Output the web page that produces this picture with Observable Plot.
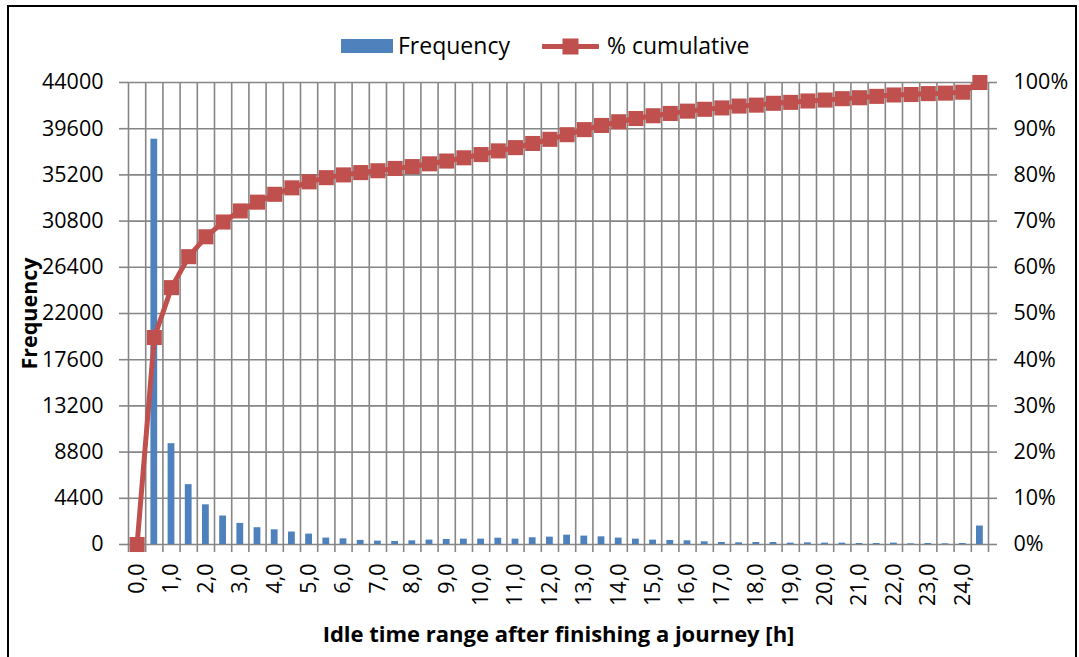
<!DOCTYPE html>
<html><head><meta charset="utf-8">
<script src="https://cdn.jsdelivr.net/npm/d3@7"></script>
<script src="https://cdn.jsdelivr.net/npm/@observablehq/plot@0.6"></script>
<style>
html,body{margin:0;padding:0;background:#fff;overflow:hidden;}
#wrap{position:relative;width:1079px;height:657px;font-family:"Open Sans",sans-serif;color:#000;}
#frame{position:absolute;left:7px;top:5px;width:1066px;height:700px;border:2px solid #000;pointer-events:none;box-sizing:content-box;}
#legend{position:relative;height:70px;font-size:23px;}
#legend .sw{position:absolute;left:341px;top:39px;width:52px;height:14px;background:#4F81BD;}
#legend .t1{position:absolute;left:398px;top:30px;line-height:30px;}
#legend svg{position:absolute;left:542px;top:38px;}
#legend .t2{position:absolute;left:607px;top:30px;line-height:30px;}
</style></head>
<body>
<div id="wrap">
  <div id="legend">
    <div class="sw"></div><div class="t1">Frequency</div>
    <svg width="57" height="17"><line x1="1" y1="8.5" x2="56" y2="8.5" stroke="#C0504D" stroke-width="5" stroke-linecap="round"/><rect x="20.5" y="0.5" width="16" height="16" fill="#C0504D"/></svg>
    <div class="t2">% cumulative</div>
  </div>
  <div id="chart"></div>
  <div id="frame"></div>
</div>
<script>
const categories = ["0,0","0,5","1,0","1,5","2,0","2,5","3,0","3,5","4,0","4,5","5,0","5,5","6,0","6,5","7,0","7,5","8,0","8,5","9,0","9,5","10,0","10,5","11,0","11,5","12,0","12,5","13,0","13,5","14,0","14,5","15,0","15,5","16,0","16,5","17,0","17,5","18,0","18,5","19,0","19,5","20,0","20,5","21,0","21,5","22,0","22,5","23,0","23,5","24,0","24,5"];
const frequency = [0,38600,9600,5700,3780,2710,2010,1600,1400,1190,990,610,540,390,320,290,350,420,480,510,510,600,510,640,700,890,800,730,610,510,415,385,350,255,190,160,190,190,130,160,130,130,95,95,130,65,95,65,95,1760];
const cumulativePct = [0,44.8,55.6,62.3,66.6,69.8,72.2,74.1,75.8,77.2,78.5,79.4,80.0,80.5,80.9,81.4,81.8,82.4,83.0,83.7,84.4,85.2,85.9,86.8,87.7,88.7,89.8,90.7,91.5,92.2,92.8,93.3,93.8,94.2,94.5,94.9,95.1,95.5,95.7,96.0,96.2,96.5,96.7,97.0,97.3,97.4,97.6,97.7,97.9,100];
const freqTicks = [0,4400,8800,13200,17600,22000,26400,30800,35200,39600,44000];
const pctTickLabels = ["0%","10%","20%","30%","40%","50%","60%","70%","80%","90%","100%"];
const xTitle = "Idle time range after finishing a journey [h]";
const yTitle = "Frequency";

const data = categories.map((c, i) => ({i, cat: c, freq: frequency[i], pct: cumulativePct[i]}));
const pctToFreq = 44000 / 100;
const boundaries = d3.range(categories.length + 1).map(i => i - 0.5);
const labelIdx = categories.map((c, i) => i).filter(i => categories[i].endsWith(",0"));
const gridColor = "#868686";

const chart = Plot.plot({
  width: 1079,
  height: 587,
  marginTop: 12,
  marginBottom: 113,
  marginLeft: 128,
  marginRight: 91,
  style: {fontFamily: "'Open Sans', sans-serif", fontSize: "21px", color: "#000", background: "transparent", overflow: "visible"},
  x: {type: "linear", domain: [-0.5, categories.length - 0.5]},
  y: {domain: [0, 44000], nice: false},
  marks: [
    Plot.gridY(freqTicks, {stroke: gridColor, strokeOpacity: 1, strokeWidth: 1.6}),
    Plot.gridX(boundaries, {stroke: gridColor, strokeOpacity: 1, strokeWidth: 1.6}),
    Plot.axisX(boundaries, {tickSize: 8, stroke: gridColor, strokeWidth: 1.6, tickFormat: () => "", label: null}),
    Plot.axisX(labelIdx, {tickSize: 0, tickPadding: 19, tickRotate: -90, tickFormat: i => categories[i], label: null, fontSize: 21.5, fill: "#000"}),
    Plot.axisY(freqTicks, {anchor: "left", tickSize: 9, tickPadding: 16, stroke: gridColor, strokeWidth: 1.6, tickFormat: d => String(d), label: null, fontSize: 21.5, fill: "#000"}),
    Plot.axisY(freqTicks, {anchor: "right", tickSize: 8, tickPadding: 17, stroke: gridColor, strokeWidth: 1.6, tickFormat: d => pctTickLabels[freqTicks.indexOf(d)], label: null, fontSize: 21.5, fill: "#000"}),
    Plot.rectY(data, {x1: d => d.i - 0.5, x2: d => d.i + 0.5, y: "freq", insetLeft: 5.2, insetRight: 5.2, fill: "#4F81BD"}),
    Plot.line(data, {x: "i", y: d => d.pct * pctToFreq, stroke: "#C0504D", strokeWidth: 5, strokeLinejoin: "round"}),
    Plot.dot(data, {x: "i", y: d => d.pct * pctToFreq, symbol: "square", r: 8.5, fill: "#C0504D", stroke: "none"}),
    Plot.text([yTitle], {frameAnchor: "left", dx: -98, rotate: -90, textAnchor: "middle", lineAnchor: "middle", fontWeight: "bold", fontSize: 21.5, fill: "#000"}),
    Plot.text([xTitle], {frameAnchor: "bottom", dy: 90, textAnchor: "middle", lineAnchor: "middle", fontWeight: "bold", fontSize: 22, fill: "#000"})
  ]
});
document.getElementById("chart").appendChild(chart);
</script>
</body></html>
